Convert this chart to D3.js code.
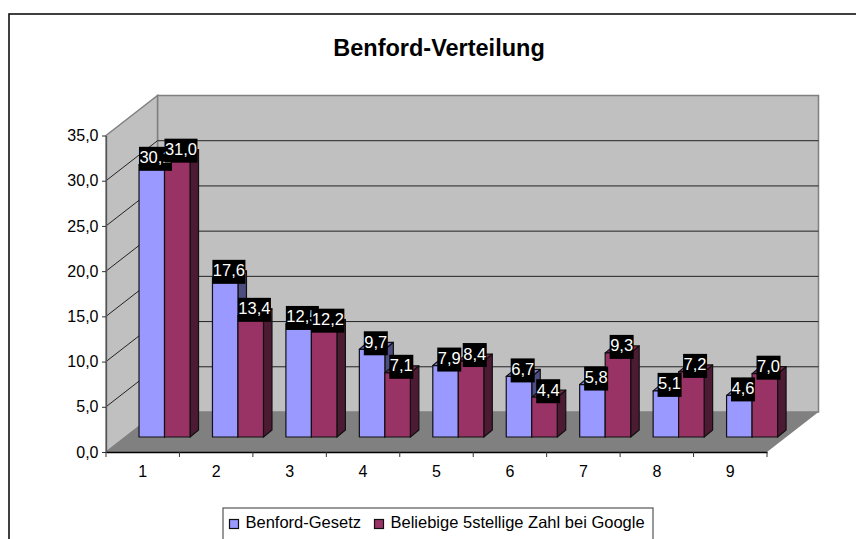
<!DOCTYPE html>
<html lang="de">
<head>
<meta charset="UTF-8" />
<title>Benford-Verteilung</title>
<script src="https://d3js.org/d3.v7.min.js"></script>
<style>
  html, body { margin: 0; padding: 0; background: #fff; }
  svg { display: block; font-family: "Liberation Sans", Arial, sans-serif; }
</style>
</head>
<body>
<div id="chart"></div>
<script>
const categories = ['1', '2', '3', '4', '5', '6', '7', '8', '9']
const seriesNames = ['Benford-Gesetz', 'Beliebige 5stellige Zahl bei Google']
const benford = [30.1, 17.6, 12.5, 9.7, 7.9, 6.7, 5.8, 5.1, 4.6]
const google = [31.0, 13.4, 12.2, 7.1, 8.4, 4.4, 9.3, 7.2, 7.0]
const yTicks = [0, 5, 10, 15, 20, 25, 30, 35]

const width = 856
const height = 539
const fmt = v => v.toFixed(1).replace('.', ',')

// floor depth of the fake 3d box
const depthX = 51.5
const depthY = -40

const svg = d3.select('#chart').append('svg').attr('width', width).attr('height', height)

const x = d3.scaleBand().domain(categories).range([106, 767])
const y = d3.scaleLinear().domain([0, 35]).range([452, 135.5])
const series = d3.scaleBand().domain(seriesNames).range([0, 51])

const colors = ['#9999ff', '#993366']
const sideColors = ['#4d4d80', '#4d1a33']
const topColors = ['#7a7acc', '#7a2952']

// chart frame, cut by the bottom and right edge of the picture
svg.append('rect').attr('x', 9).attr('y', 14).attr('width', 900).attr('height', 600)
  .attr('fill', '#fff').attr('stroke', '#111').attr('stroke-width', 1.6)

svg.append('text').attr('x', 439).attr('y', 56).attr('text-anchor', 'middle')
  .attr('font-size', 23.5).attr('font-weight', 'bold').attr('fill', '#000')
  .text('Benford-Verteilung')

const x0 = x.range()[0]
const x1 = x.range()[1]
const poly = pts => pts.map(p => p.join(',')).join(' ')

// back wall
svg.append('polygon')
  .attr('points', poly([[x0 + depthX, y(35) + depthY], [x1 + depthX, y(35) + depthY], [x1 + depthX, y(0) + depthY], [x0 + depthX, y(0) + depthY]]))
  .attr('fill', '#c0c0c0').attr('stroke', '#808080').attr('stroke-width', 1.5)
// left wall
svg.append('polygon')
  .attr('points', poly([[x0, y(35)], [x0 + depthX, y(35) + depthY], [x0 + depthX, y(0) + depthY], [x0, y(0)]]))
  .attr('fill', '#c0c0c0').attr('stroke', '#808080').attr('stroke-width', 1.5)
// floor
svg.append('polygon')
  .attr('points', poly([[x0, y(0)], [x1, y(0)], [x1 + depthX, y(0) + depthY], [x0 + depthX, y(0) + depthY]]))
  .attr('fill', '#808080')

// gridlines
const grid = svg.append('g').attr('stroke', '#222').attr('stroke-width', 1).attr('fill', 'none')
yTicks.filter(t => t > 0 && t < 35).forEach(t => {
  grid.append('polyline')
    .attr('points', poly([[x0, y(t)], [x0 + depthX, y(t) + depthY], [x1 + depthX, y(t) + depthY]]))
})

// axes
const yAxis = svg.append('g').attr('transform', `translate(${x0},0)`)
  .call(d3.axisLeft(y).tickValues(yTicks).tickFormat(fmt).tickSize(4).tickSizeOuter(0))
yAxis.select('.domain').attr('stroke', '#555').attr('stroke-width', 1.3)
yAxis.selectAll('.tick line').attr('stroke', '#333')
yAxis.selectAll('text').attr('font-size', 16).attr('fill', '#000').attr('font-family', '"Liberation Sans", Arial, sans-serif').attr('dx', -0.5)

const xAxis = svg.append('g').attr('transform', `translate(0,${y(0)})`)
  .call(d3.axisBottom(x).tickSize(0).tickSizeOuter(0))
xAxis.select('.domain').attr('stroke', '#000').attr('stroke-width', 1.5)
xAxis.selectAll('text').attr('font-size', 16).attr('fill', '#000').attr('font-family', '"Liberation Sans", Arial, sans-serif').attr('dy', 22)
const boundaries = categories.map(c => x(c)).concat([x1])
svg.append('g').selectAll('line').data(boundaries).join('line')
  .attr('x1', d => d).attr('x2', d => d).attr('y1', y(0)).attr('y2', y(0) + 5)
  .attr('stroke', '#333')

// bars, in front of the walls by a fixed share of the floor depth
const barDepthX = 8.5
const barDepthY = -7
const barShiftX = 21.8 + (x.bandwidth() - series.range()[1]) / 2
const barBase = 437
const barY = v => barBase - (y(0) - y(v))

const rows = categories.map((c, i) => [benford[i], google[i]])
const bars = svg.append('g').attr('stroke', '#111').attr('stroke-width', 1.2).attr('stroke-linejoin', 'round')
categories.forEach((c, i) => {
  rows[i].forEach((v, s) => {
    const left = x(c) + barShiftX + series(seriesNames[s])
    const w = series.bandwidth()
    const top = barY(v)
    bars.append('polygon').attr('fill', sideColors[s])
      .attr('points', poly([[left + w, top], [left + w + barDepthX, top + barDepthY], [left + w + barDepthX, barBase + barDepthY], [left + w, barBase]]))
    bars.append('polygon').attr('fill', topColors[s])
      .attr('points', poly([[left, top], [left + barDepthX, top + barDepthY], [left + w + barDepthX, top + barDepthY], [left + w, top]]))
    bars.append('rect').attr('fill', colors[s])
      .attr('x', left).attr('y', top).attr('width', w).attr('height', barBase - top)
  })
})

// value labels: white on black boxes, the later ones hide the earlier ones
const labels = svg.append('g')
categories.forEach((c, i) => {
  rows[i].forEach((v, s) => {
    const cx = x(c) + barShiftX + series(seriesNames[s]) + series.bandwidth() / 2 + 3.7
    const cy = barY(v) - 6
    const txt = fmt(v)
    const boxW = txt.length > 3 ? 33 : 24
    labels.append('rect').attr('x', cx - boxW / 2).attr('y', cy - 12).attr('width', boxW).attr('height', 24).attr('fill', '#000')
    labels.append('text').attr('x', cx).attr('y', cy + 4.5).attr('text-anchor', 'middle')
      .attr('font-size', 16.5).attr('fill', '#fff').text(txt)
  })
})

// legend
const legend = svg.append('g')
legend.append('rect').attr('x', 223).attr('y', 508).attr('width', 430).attr('height', 40)
  .attr('fill', '#fff').attr('stroke', '#555').attr('stroke-width', 1.2)
const legendX = [229.5, 374.5]
seriesNames.forEach((name, s) => {
  legend.append('rect').attr('x', legendX[s]).attr('y', 519.5).attr('width', 9).attr('height', 9)
    .attr('fill', colors[s]).attr('stroke', '#111').attr('stroke-width', 1.2)
  legend.append('text').attr('x', legendX[s] + 16).attr('y', 528).attr('font-size', 16.5).attr('fill', '#000').text(name)
})
</script>
</body>
</html>
